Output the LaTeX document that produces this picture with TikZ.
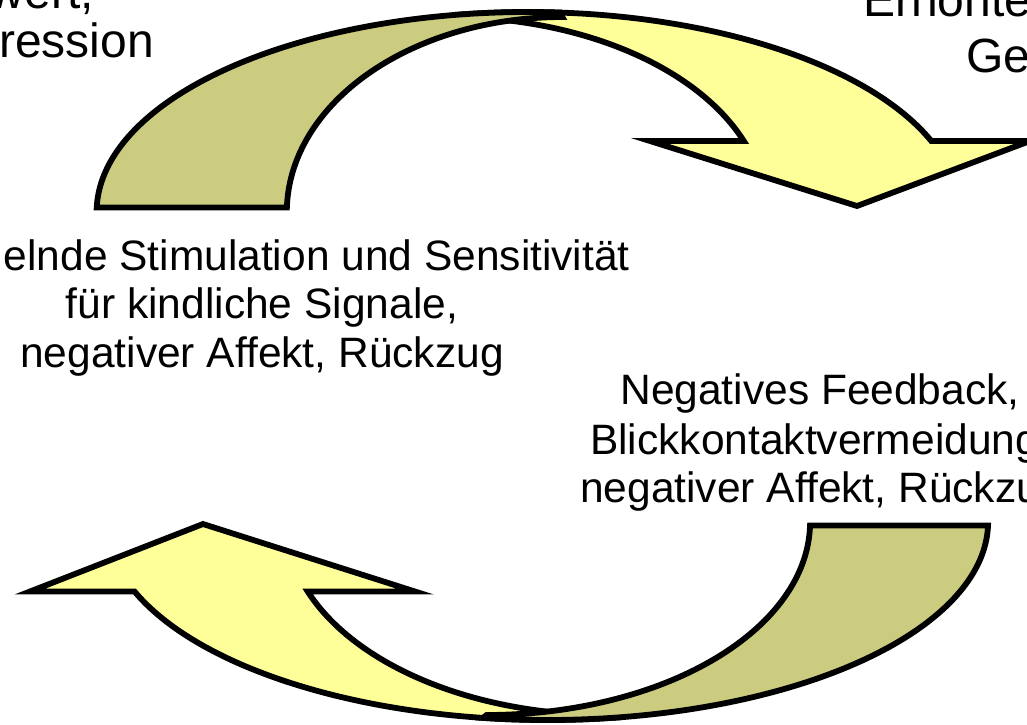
\documentclass[tikz,border=0pt]{standalone}
\usepackage{fontspec}
\setmainfont{Liberation Sans}
\definecolor{khaki}{RGB}{204,204,128}
\definecolor{paleyellow}{RGB}{255,255,153}
\tikzset{
  band/.style={draw=black, line width=5.8pt, line join=miter},
  back/.style={band, fill=khaki},
  front/.style={band, fill=paleyellow},
  lbl/.style={inner sep=0pt, font=\fontsize{42.5}{49}\selectfont},
  biglbl/.style={inner sep=0pt, font=\fontsize{48}{55}\selectfont},
}
\begin{document}
\begin{tikzpicture}[x=1pt, y=-1pt]
\useasboundingbox (0,0) rectangle (1027,724);
\clip (0,0) rectangle (1027,724);

% upper arrow: yellow head part, then khaki back part on top
\path[front]
  plot[domain=99.74:20.79, samples=90, variable=\t] ({528+431.4*cos(\t)}, {212-200*sin(\t)})
  -- (1030,141) -- (857,206) -- (650,141)
  -- plot[domain=21.35:90, samples=70, variable=\t] ({449.2+316.3*cos(\t)}, {212-195*sin(\t)})
  -- cycle;
\path[back]
  plot[domain=178.71:85.75, samples=90, variable=\t] ({528+431.4*cos(\t)}, {212-200*sin(\t)})
  -- (562.4,17)
  -- plot[domain=90:178.68, samples=70, variable=\t] ({562.4+275.6*cos(\t)}, {212-195*sin(\t)})
  -- cycle;

% lower arrow: yellow head part, then khaki back part on top
\path[front]
  plot[domain=159.45:81.56, samples=90, variable=\t] ({547.3+440.8*cos(\t)}, {522+198*sin(\t)})
  -- (606.9,715)
  -- plot[domain=90:158.9, samples=70, variable=\t] ({606.9+320.7*cos(\t)}, {522+193*sin(\t)})
  -- (415,591.5) -- (203,524) -- (30,591.5)
  -- cycle;
\path[back]
  plot[domain=1.01:98.39, samples=90, variable=\t] ({547.3+440.8*cos(\t)}, {522+198*sin(\t)})
  -- (486.6,715)
  -- plot[domain=90:1.04, samples=70, variable=\t] ({486.6+323.5*cos(\t)}, {522+193*sin(\t)})
  -- cycle;

% labels
\node[biglbl, anchor=base east] (wert) at (94,8) {wert,};
\node[biglbl, anchor=base west] (ression) at (-1,57.5) {ression};
\node[biglbl, anchor=base west] (erh) at (863,16) {Erhöhte};
\node[biglbl, anchor=base west] (ge) at (966,72) {Ge};

\node[lbl, anchor=base east] (stim1) at (630,270) {elnde Stimulation und Sensitivität};
\node[lbl, anchor=base] (stim2) at (262,318.5) {für kindliche Signale,};
\node[lbl, anchor=base] (stim3) at (262,367) {negativer Affekt, Rückzug};

\node[lbl, anchor=base] (neg1) at (820,404) {Negatives Feedback,};
\node[lbl, anchor=base west] (neg2) at (590,454) {Blickkontaktvermeidung};
\node[lbl, anchor=base west] (neg3) at (580,502) {negativer Affekt, Rückzug};
\end{tikzpicture}
\end{document}
